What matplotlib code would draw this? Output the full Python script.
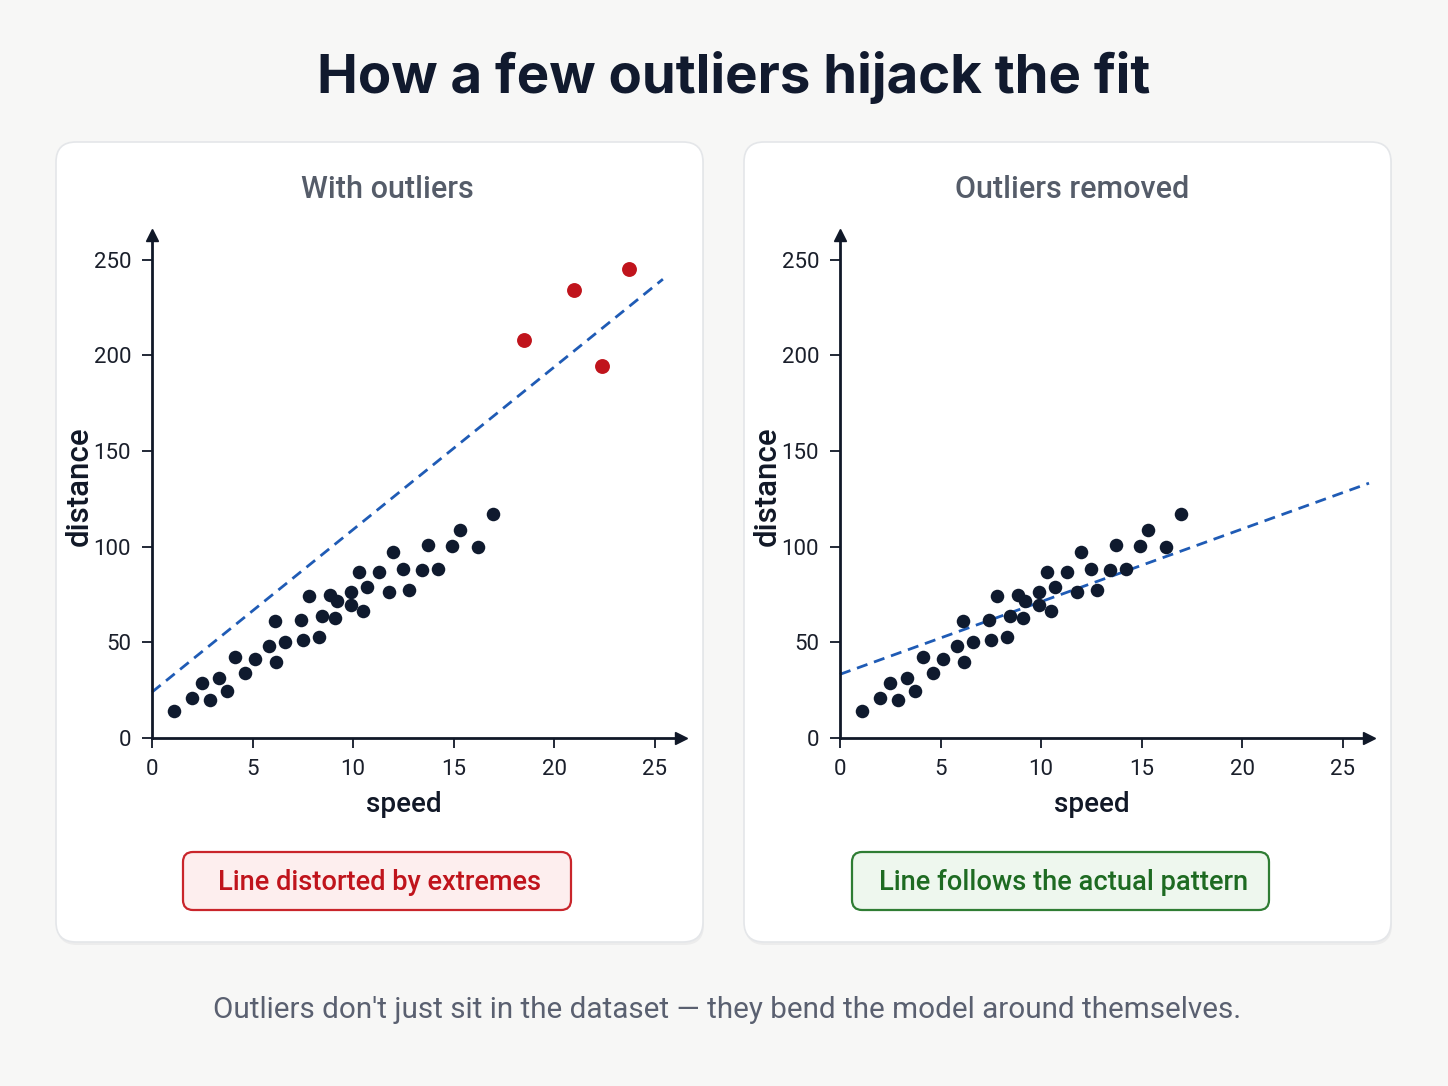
import numpy as np
import matplotlib.pyplot as plt
from matplotlib.patches import FancyBboxPatch

# inlier points (same in both panels)
speed = [1.1, 2.0, 2.5, 2.9, 3.35, 3.75, 4.15, 4.6, 5.1, 5.8, 6.1, 6.15, 6.6,
         7.4, 7.5, 7.8, 8.3, 8.45, 8.85, 9.2, 9.1, 9.9, 9.9, 10.3, 10.5, 10.7,
         11.3, 11.8, 12.0, 12.5, 12.8, 13.4, 13.7, 14.2, 14.9, 15.3, 16.2, 16.95]
dist = [14, 21, 29, 20, 31.5, 24.5, 42.5, 34, 41.5, 48, 61, 39.5, 50,
        61.5, 51, 74, 53, 64, 75, 71.5, 63, 76.5, 69.5, 87, 66.5, 79,
        87, 76.5, 97, 88.5, 77.5, 88, 101, 88.5, 100.5, 108.5, 100, 117]
# outliers, left panel only
out_speed = [18.5, 21.0, 22.35, 23.7]
out_dist = [208, 234, 194.5, 245]
# dashed lines as drawn: (intercept, slope, x end)
line_left = (24, 8.5, 25.4)
line_right = (33.3, 3.8, 26.3)

panel_titles = ['With outliers', 'Outliers removed']
badges = ['Line distorted by extremes', 'Line follows the actual pattern']
xticks = [0, 5, 10, 15, 20, 25]
yticks = [0, 50, 100, 150, 200, 250]

W, H = 1448, 1086
fig = plt.figure(figsize=(W / 100, H / 100), dpi=100)
fig.patch.set_facecolor('#f7f7f6')

# background layer in pixel coords
bg = fig.add_axes([0, 0, 1, 1], zorder=-1)
bg.set_xlim(0, W)
bg.set_ylim(H, 0)
bg.axis('off')

for x0 in (56, 744):
    bg.add_patch(FancyBboxPatch((x0 + 1, 145), 647, 800, boxstyle='round,pad=0,rounding_size=20',
                                fc='#ececec', ec='none'))
    bg.add_patch(FancyBboxPatch((x0, 142), 647, 800, boxstyle='round,pad=0,rounding_size=20',
                                fc='white', ec='#e4e6e9', lw=1.2))

bg.text(734, 77, 'How a few outliers hijack the fit', ha='center', va='center',
        fontsize=39.3, fontweight='bold', color='#111a2e', family='Inter')
bg.text(727, 1010, "Outliers don't just sit in the dataset \u2014 they bend the model around themselves.",
        ha='center', va='center', fontsize=21.3, color='#5a6070', family='Roboto')

for cx, txt in zip((387, 1072), panel_titles):
    bg.text(cx, 190, txt, ha='center', va='center', fontsize=22, color='#555c69',
            family='Roboto', fontweight='medium')

# badges
badge_style = [((183, 852, 388, 58), '#fdeeee', '#c9252b', '#c0141c'),
               ((852, 852, 417, 58), '#eef7ee', '#2f7d34', '#1e6b22')]
for (bx, by, bw, bh), fc, ec, tc in badge_style:
    bg.add_patch(FancyBboxPatch((bx, by), bw, bh, boxstyle='round,pad=0,rounding_size=10',
                                fc=fc, ec=ec, lw=1.6))
    
for (bx, by, bw, bh), txt, st in zip([b[0] for b in badge_style], badges, badge_style):
    bg.text(bx + bw / 2 + 3, by + bh / 2 + 1, txt, ha='center', va='center', fontsize=19.6,
            color=st[3], family='Roboto', fontweight='medium')

ink = '#101828'
lefts = [152 / W, 840 / W]
for i, left in enumerate(lefts):
    ax = fig.add_axes([left, 1 - 738 / H, 529 / W, 503 / H])
    ax.set_facecolor('none')
    ax.set_xlim(0, 26.3)
    ax.set_ylim(0, 263)
    for s in ('top', 'right'):
        ax.spines[s].set_visible(False)
    for s in ('left', 'bottom'):
        ax.spines[s].set_color(ink)
        ax.spines[s].set_linewidth(2)
    ax.plot(1, 0, '>', color=ink, ms=9, transform=ax.get_yaxis_transform(), clip_on=False)
    ax.plot(0, 1, '^', color=ink, ms=9, transform=ax.get_xaxis_transform(), clip_on=False)
    ax.set_xticks(xticks)
    ax.set_yticks(yticks)
    ax.tick_params(length=7, width=1.3, color=ink, labelsize=16, labelcolor='#1a1f2b', pad=8)
    for lab in ax.get_xticklabels() + ax.get_yticklabels():
        lab.set_family('Roboto')
    ax.set_xlabel('speed', fontsize=20, color='#111827', family='Roboto', fontweight='medium',
                  labelpad=8, x=12.5 / 26.3)
    ax.set_ylabel('distance', fontsize=22.5, color='#111827', family='Roboto', fontweight='medium',
                  labelpad=0)

    b0, b1, xend = line_left if i == 0 else line_right
    xs = np.array([0, xend])
    ax.plot(xs, b0 + b1 * xs, ls=(0, (4, 2.5)), color='#1f5bb5', lw=2, clip_on=False, zorder=2)
    ax.scatter(speed, dist, s=95, color='#0f1a2e', zorder=3, lw=0)
    if i == 0:
        ax.scatter(out_speed, out_dist, s=115, color='#c0141c', zorder=3, lw=0)

fig.savefig('out.png', dpi=100, facecolor=fig.get_facecolor())
